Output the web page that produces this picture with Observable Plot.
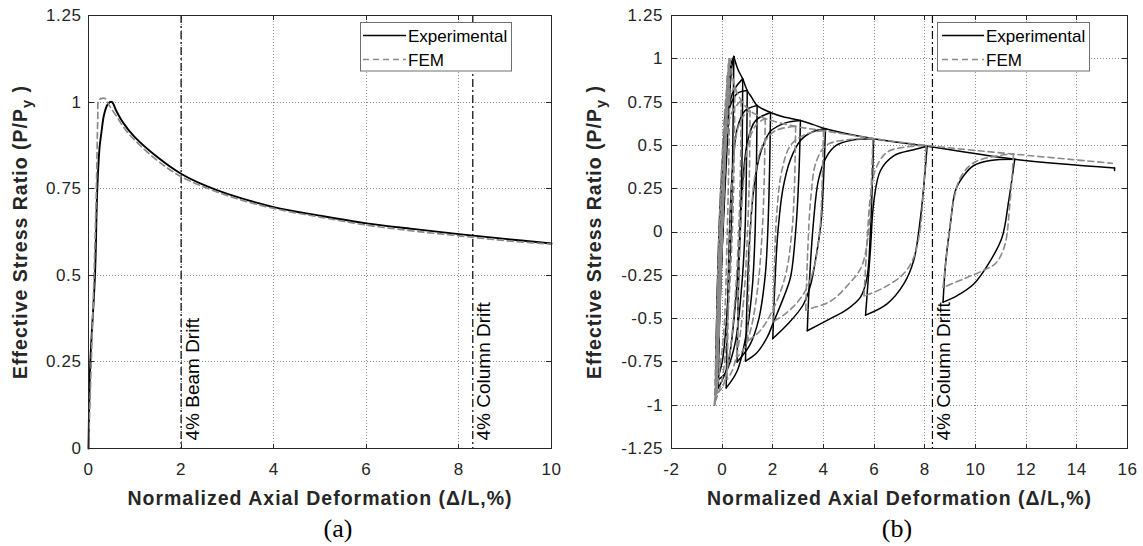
<!DOCTYPE html>
<html><head><meta charset="utf-8">
<script src="https://cdn.jsdelivr.net/npm/d3@7"></script>
<script src="https://cdn.jsdelivr.net/npm/@observablehq/plot@0.6"></script>
<style>
body{margin:0;background:#fff;}
#wrap{position:relative;width:1143px;height:546px;overflow:hidden;background:#fff;}
#wrap svg.plot{position:absolute;top:0;}
#overlay{position:absolute;left:0;top:0;pointer-events:none;}
g[aria-label="x-axis tick label"] text, g[aria-label="y-axis tick label"] text{letter-spacing:0.6px;}
g[aria-label="x-axis label"] text, g[aria-label="y-axis label"] text{font-size:19.5px;font-weight:bold;letter-spacing:1px;}
</style></head>
<body><div id="wrap"></div>
<script>
// ---------- ticks ----------
const xTicksA = [0, 2, 4, 6, 8, 10];
const yTicksA = [0, 0.25, 0.5, 0.75, 1, 1.25];
const xTicksB = [-2, 0, 2, 4, 6, 8, 10, 12, 14, 16];
const yTicksB = [-1.25, -1, -0.75, -0.5, -0.25, 0, 0.25, 0.5, 0.75, 1, 1.25];
const beamDrift = 2;
const columnDrift = 8.3;
const xLabel = "Normalized Axial Deformation (\u0394/L,%)";
const yLabel = "Effective Stress Ratio (P/P";
const seriesNames = ["Experimental", "FEM"];

// ---------- panel (a) ----------
const expA = [[0,0],[0.04,0.25],[0.14,0.5],[0.19,0.75],[0.24,0.87],[0.28,0.913],[0.33,0.96],[0.4,0.99],[0.46,1.0],[0.51,1.0],[0.6,0.975],[0.75,0.94],[1.0,0.899],[1.5,0.84],[2,0.793],[2.5,0.76],[3,0.735],[4,0.697],[5,0.672],[6,0.65],[7,0.634],[8,0.619],[9,0.605],[10,0.592]];
const femA = [[0,0],[0.06,0.25],[0.12,0.5],[0.17,0.75],[0.2,0.95],[0.22,1.005],[0.27,1.01],[0.36,1.01],[0.45,0.99],[0.6,0.96],[0.8,0.92],[1.0,0.89],[1.5,0.83],[2,0.785],[3,0.73],[4,0.693],[5,0.668],[6,0.645],[7,0.628],[8,0.614],[9,0.6],[10,0.59]];

// ---------- panel (b) : experimental ----------
const expB_elastic = [
  [[0,0],[0.15,0.75]],
  [[0.15,0.75],[-0.15,-0.7]],
  [[-0.15,-0.7],[0.25,0.92]],
  [[0.25,0.92],[-0.25,-0.85]],
  [[-0.25,-0.85],[0.0,-0.1],[0.3,0.8],[0.38,0.95],[0.46,1.013]]
];
const expB_unload = [
  [[0.46,1.013],[0.42,0.5],[0.35,0.0],[0.2,-0.45],[0.0,-0.75],[-0.25,-0.88]],
  [[0.81,0.884],[0.78,0.4],[0.7,0.0],[0.5,-0.45],[0.2,-0.78],[-0.15,-0.9]],
  [[0.99,0.817],[0.96,0.4],[0.9,0.0],[0.75,-0.35],[0.5,-0.65],[0.1,-0.82],[-0.26,-0.86]],
  [[1.38,0.73],[1.35,0.35],[1.3,0.0],[1.2,-0.3],[1.0,-0.55],[0.6,-0.8],[0.16,-0.9]],
  [[1.91,0.69],[1.87,0.35],[1.8,0.0],[1.7,-0.25],[1.45,-0.5],[1.1,-0.65],[0.59,-0.75]],
  [[3.09,0.644],[3.02,0.3],[2.9,0.0],[2.7,-0.26],[2.43,-0.376],[2.0,-0.53],[1.78,-0.607],[1.35,-0.7],[0.92,-0.745]],
  [[4.08,0.596],[4.0,0.3],[3.9,0.05],[3.68,-0.165],[3.5,-0.3],[3.2,-0.42],[2.6,-0.53],[2.0,-0.615]],
  [[5.98,0.538],[5.92,0.25],[5.85,0.0],[5.72,-0.26],[5.46,-0.376],[4.9,-0.45],[4.27,-0.5],[3.36,-0.57]],
  [[8.09,0.495],[7.98,0.3],[7.83,0.085],[7.56,-0.165],[7.17,-0.3],[6.51,-0.415],[5.66,-0.48]],
  [[11.55,0.42],[11.31,0.18],[11.05,-0.03],[10.59,-0.165],[9.93,-0.3],[9.28,-0.367],[8.72,-0.405]]
];
const expB_reload = [
  [[-0.25,-0.88],[-0.2,-0.4],[-0.1,0.1],[0.05,0.5],[0.2,0.8],[0.35,0.97],[0.46,1.013]],
  [[-0.15,-0.9],[-0.1,-0.4],[0.0,0.1],[0.15,0.5],[0.4,0.8],[0.81,0.884]],
  [[-0.26,-0.86],[-0.2,-0.4],[-0.1,0.0],[0.05,0.4],[0.3,0.72],[0.6,0.8],[0.99,0.817]],
  [[0.16,-0.9],[0.2,-0.5],[0.27,-0.1],[0.38,0.3],[0.6,0.6],[0.9,0.7],[1.38,0.73]],
  [[0.59,-0.75],[0.63,-0.4],[0.7,-0.05],[0.82,0.3],[1.0,0.52],[1.3,0.64],[1.91,0.69]],
  [[0.92,-0.745],[0.98,-0.4],[1.08,-0.05],[1.25,0.25],[1.5,0.45],[1.9,0.58],[2.5,0.63],[3.09,0.644]],
  [[2.0,-0.615],[2.08,-0.3],[2.2,0.0],[2.4,0.25],[2.7,0.42],[3.1,0.53],[3.6,0.58],[4.08,0.596]],
  [[3.36,-0.57],[3.45,-0.27],[3.6,0.05],[3.8,0.3],[4.1,0.43],[4.5,0.5],[5.1,0.53],[5.98,0.538]],
  [[5.66,-0.48],[5.85,-0.107],[5.99,0.18],[6.25,0.355],[6.77,0.44],[7.56,0.475],[8.09,0.495]],
  [[8.72,-0.405],[8.82,-0.18],[9.01,0.047],[9.21,0.24],[9.54,0.326],[9.93,0.384],[10.59,0.413],[11.55,0.42]]
];
const expB_envelope = [
  [[0.46,1.013],[0.62,0.94],[0.81,0.884],[0.99,0.817],[1.15,0.78],[1.38,0.73],[1.6,0.71],[1.91,0.69],[2.4,0.665],[3.09,0.644],[3.6,0.62],[4.08,0.596],[5.98,0.538],[8.09,0.495],[11.55,0.42],[15.49,0.37]],
  [[15.49,0.37],[15.49,0.355]]
];

// ---------- panel (b) : FEM ----------
const femB_elastic = [
  [[0,0],[0.1,0.55]],
  [[0.1,0.55],[-0.12,-0.6]],
  [[-0.12,-0.6],[0.15,0.75]],
  [[0.15,0.75],[-0.18,-0.8]],
  [[-0.18,-0.8],[0.2,0.9]],
  [[0.2,0.9],[-0.22,-0.9]],
  [[-0.22,-0.9],[0.25,0.97]],
  [[0.25,0.97],[-0.28,-0.98]],
  [[-0.28,-0.98],[0.28,1.0]],
  [[0.28,1.0],[-0.3,-1.0]],
  [[-0.3,-1.0],[0.3,1.0]]
];
const femB_unload = [
  [[0.3,1.0],[0.27,0.5],[0.2,0.0],[0.05,-0.6],[-0.3,-1.0]],
  [[0.5,0.84],[0.47,0.4],[0.4,0.0],[0.22,-0.5],[0.0,-0.85],[-0.25,-0.97]],
  [[0.75,0.76],[0.72,0.35],[0.65,0.0],[0.5,-0.4],[0.25,-0.75],[0.0,-0.9],[-0.2,-0.93]],
  [[1.1,0.7],[1.07,0.3],[1.0,0.0],[0.87,-0.35],[0.65,-0.65],[0.4,-0.8],[0.2,-0.85]],
  [[1.7,0.655],[1.66,0.3],[1.58,0.0],[1.42,-0.3],[1.15,-0.55],[0.88,-0.67],[0.6,-0.72]],
  [[2.9,0.61],[2.85,0.25],[2.75,0.0],[2.5,-0.25],[2.0,-0.45],[1.5,-0.57],[1.0,-0.63]],
  [[4.0,0.585],[3.94,0.25],[3.85,0.0],[3.6,-0.22],[3.2,-0.36],[2.6,-0.46],[2.0,-0.52]],
  [[5.95,0.54],[5.88,0.25],[5.78,0.0],[5.5,-0.2],[5.0,-0.3],[4.27,-0.4],[3.3,-0.45]],
  [[8.05,0.5],[7.95,0.25],[7.8,0.0],[7.55,-0.15],[7.17,-0.24],[6.4,-0.32],[5.6,-0.37]],
  [[11.5,0.45],[11.35,0.15],[11.15,-0.08],[10.8,-0.18],[10.33,-0.22],[9.54,-0.27],[8.72,-0.32]]
];
const femB_reload = [
  [[-0.3,-1.0],[-0.22,-0.5],[-0.1,0.1],[0.1,0.7],[0.3,1.0]],
  [[-0.25,-0.97],[-0.2,-0.5],[-0.1,0.0],[0.05,0.45],[0.25,0.76],[0.5,0.84]],
  [[-0.2,-0.93],[-0.15,-0.45],[-0.05,0.0],[0.1,0.42],[0.35,0.68],[0.75,0.76]],
  [[0.2,-0.85],[0.24,-0.45],[0.3,-0.05],[0.42,0.35],[0.62,0.6],[0.9,0.68],[1.1,0.7]],
  [[0.6,-0.72],[0.64,-0.35],[0.72,0.0],[0.85,0.3],[1.05,0.52],[1.35,0.62],[1.7,0.655]],
  [[1.0,-0.63],[1.05,-0.3],[1.13,0.05],[1.3,0.33],[1.6,0.5],[2.1,0.585],[2.9,0.61]],
  [[2.0,-0.52],[2.06,-0.2],[2.15,0.1],[2.35,0.35],[2.7,0.5],[3.3,0.565],[4.0,0.585]],
  [[3.3,-0.45],[3.38,-0.1],[3.5,0.2],[3.7,0.4],[4.1,0.5],[4.8,0.53],[5.95,0.54]],
  [[5.6,-0.37],[5.72,-0.05],[5.85,0.2],[6.05,0.36],[6.5,0.46],[7.2,0.49],[8.05,0.5]],
  [[8.72,-0.32],[8.88,-0.107],[9.14,0.18],[9.41,0.316],[9.93,0.40],[10.86,0.44],[11.5,0.45]]
];
const femB_envelope = [
  [[0.3,1.0],[0.5,0.84],[0.75,0.76],[1.1,0.7],[1.7,0.655],[2.9,0.61],[4.0,0.585],[5.95,0.54],[8.05,0.5],[11.5,0.45],[15.4,0.397]]
];

// ---------- helpers ----------
function rows(segGroups, tag) {
  const out = [];
  segGroups.forEach((segs, g) => segs.forEach((seg, i) => seg.forEach(([x, y]) => out.push({x, y, seg: tag + g + "-" + i}))));
  return out;
}
const FONT = "'Liberation Sans', Arial, Helvetica, sans-serif";
const GRID = {stroke: "#8c8c8c", strokeOpacity: 1, strokeWidth: 1, strokeDasharray: "1,2", shapeRendering: "crispEdges"};
const EXP = {stroke: "#000", strokeWidth: 1.7, curve: "catmull-rom"};
const FEM = {stroke: "#8a8a8a", strokeWidth: 1.7, strokeDasharray: "6,4", curve: "catmull-rom"};
const fmt = d => String(d);
const blank = () => "";

function axes(xT, yT, yLabelOffset, yPad) {
  const T = {tickSize: 5, tickFormat: blank, label: null, stroke: "#262626", shapeRendering: "crispEdges"};
  return [
    Plot.frame({stroke: "#262626", strokeWidth: 1}),
    // inward ticks on all four sides
    Plot.axisX(xT, {anchor: "top", frameAnchor: "bottom", ...T}),
    Plot.axisX(xT, {anchor: "bottom", frameAnchor: "top", ...T}),
    Plot.axisY(yT, {anchor: "right", frameAnchor: "left", ...T}),
    Plot.axisY(yT, {anchor: "left", frameAnchor: "right", ...T}),
    // tick labels and axis labels
    Plot.axisX(xT, {anchor: "bottom", tickSize: 0, tickPadding: 14, tickFormat: fmt, label: xLabel, labelAnchor: "center", labelOffset: 56, labelArrow: "none"}),
    Plot.axisY(yT, {anchor: "left", tickSize: 0, tickPadding: yPad, tickFormat: fmt, label: yLabel, labelAnchor: "center", labelOffset: yLabelOffset, labelArrow: "none"})
  ];
}
function driftLabel(x, txt) {
  return Plot.text([x], {x: d => d, frameAnchor: "bottom", text: () => txt, rotate: -90, textAnchor: "start", lineAnchor: "top", dx: 4, dy: -8, fontSize: 19, fill: "#000"});
}
const styleObj = {fontFamily: FONT, fontSize: "17px", color: "#262626", background: "transparent", overflow: "visible"};

const chartA = Plot.plot({
  width: 571, height: 546, marginLeft: 88, marginRight: 20, marginTop: 15, marginBottom: 98,
  x: {domain: [0, 10]}, y: {domain: [0, 1.25]},
  style: styleObj,
  marks: [
    Plot.gridX(xTicksA, GRID),
    Plot.gridY(yTicksA, GRID),
    Plot.ruleX([beamDrift, columnDrift], {stroke: "#000", strokeWidth: 1.2, strokeDasharray: "8,3,2,3"}),
    driftLabel(beamDrift, "4% Beam Drift"),
    driftLabel(columnDrift, "4% Column Drift"),
    Plot.line(expA, {x: d => d[0], y: d => d[1], ...EXP, strokeWidth: 1.9}),
    Plot.line(femA, {x: d => d[0], y: d => d[1], ...FEM}),
    ...axes(xTicksA, yTicksA, 75, 7)
  ]
});

const expRowsB = rows([expB_elastic, expB_unload, expB_reload, expB_envelope], "e");
const femRowsB = rows([femB_elastic, femB_unload, femB_reload, femB_envelope], "f");

const chartB = Plot.plot({
  width: 572, height: 546, marginLeft: 100, marginRight: 16, marginTop: 15, marginBottom: 98,
  x: {domain: [-2, 16]}, y: {domain: [-1.25, 1.25]},
  style: styleObj,
  marks: [
    Plot.gridX(xTicksB, GRID),
    Plot.gridY(yTicksB, GRID),
    Plot.ruleX([columnDrift], {stroke: "#000", strokeWidth: 1.2, strokeDasharray: "8,3,2,3"}),
    driftLabel(columnDrift, "4% Column Drift"),
    Plot.line(expRowsB, {x: "x", y: "y", z: "seg", ...EXP, strokeWidth: 1.5}),
    Plot.line(femRowsB, {x: "x", y: "y", z: "seg", ...FEM, strokeWidth: 1.6}),
    ...axes(xTicksB, yTicksB, 84, 8.5)
  ]
});

const wrap = document.getElementById("wrap");
chartA.classList.add("plot"); chartA.style.left = "0px";
chartB.classList.add("plot"); chartB.style.left = "571px";
wrap.appendChild(chartA);
wrap.appendChild(chartB);

// subscript y in the y-axis label
for (const c of [chartA, chartB]) {
  const t = d3.select(c).select('g[aria-label="y-axis label"] text');
  t.text(null);
  t.append("tspan").text(yLabel);
  t.append("tspan").attr("dy", "0.3em").attr("font-size", "0.75em").text("y");
  t.append("tspan").attr("dy", "-0.225em").text(" )");
}

// overlay: legends and captions
const ov = d3.select(wrap).append("svg").attr("id", "overlay").attr("width", 1143).attr("height", 546)
  .style("font-family", FONT);
function legend(x0, y0, w, lineStart, lineEnd, textX) {
  const g = ov.append("g").attr("transform", `translate(${x0},${y0})`);
  g.append("rect").attr("x", 0.5).attr("y", 0.5).attr("width", w).attr("height", 48.5).attr("fill", "#fff").attr("stroke", "#6e6e6e").attr("stroke-width", 1);
  g.append("line").attr("x1", lineStart).attr("x2", lineEnd).attr("y1", 13.5).attr("y2", 13.5).attr("stroke", "#000").attr("stroke-width", 1.7);
  g.append("line").attr("x1", lineStart).attr("x2", lineEnd).attr("y1", 37.5).attr("y2", 37.5).attr("stroke", "#8a8a8a").attr("stroke-width", 1.7).attr("stroke-dasharray", "6,4");
  g.append("text").attr("x", textX).attr("y", 19.5).attr("font-size", 17).attr("fill", "#000").text(seriesNames[0]);
  g.append("text").attr("x", textX).attr("y", 43.5).attr("font-size", 17).attr("fill", "#000").text(seriesNames[1]);
}
legend(360, 22, 151, 3, 46, 48);
legend(937, 22, 152, 5, 47, 49);
ov.append("text").attr("x", 338).attr("y", 537).attr("text-anchor", "middle").attr("font-family", "'Liberation Serif', 'Times New Roman', serif").attr("font-size", 26).attr("fill", "#000").text("(a)");
ov.append("text").attr("x", 897).attr("y", 537).attr("text-anchor", "middle").attr("font-family", "'Liberation Serif', 'Times New Roman', serif").attr("font-size", 26).attr("fill", "#000").text("(b)");
</script>
</body></html>
